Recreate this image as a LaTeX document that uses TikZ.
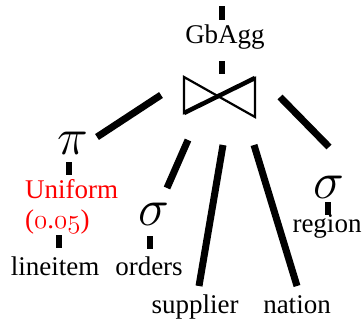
\RequirePackage{fix-cm}
\documentclass[tikz,border=0pt]{standalone}
\usepackage{fontspec}
\setmainfont{Liberation Serif}
\usepackage{xcolor}
\usetikzlibrary{positioning}

\newcommand\oldnum[1]{{\usefont{OML}{cmm}{m}{it}#1}}

\tikzset{
  lbl/.style={anchor=base,inner sep=0pt,font=\fontsize{27}{32}\selectfont},
  op/.style={anchor=base,inner sep=0pt,font=\fontsize{52}{56}\selectfont},
  edge/.style={line width=7pt},
  stub/.style={line width=6.5pt},
}

\begin{document}
\begin{tikzpicture}[x=1pt,y=-1pt]
\useasboundingbox (0,0) rectangle (364,322);

% operators and relations
\node[lbl] (gbagg) at (225,43) {GbAgg};
\node[op] (pi) at (73,154) {$\pi$};
\node[lbl,anchor=base west,text=red] (unif) at (25,198) {Uniform};
\node[lbl,anchor=base west,text=red] (rate) at (25,228) {(\oldnum{0}.\oldnum{05})};
\node[lbl] (lineitem) at (55,275) {lineitem};
\node[op] (sigo) at (154,225) {$\sigma$};
\node[lbl] (orders) at (149,275) {orders};
\node[lbl] (supplier) at (195,313) {supplier};
\node[lbl] (nation) at (297,313) {nation};
\node[op] (sigr) at (329,198) {$\sigma$};
\node[lbl] (region) at (327,232) {region};

% join symbol
\node[minimum width=71pt,minimum height=38pt,inner sep=0pt] (join) at (219.5,97) {};
\draw[line width=2.2pt] (184,77) -- (255,117) -- (255,78) -- (184,113) -- cycle;
\draw[line width=4.5pt] (184,113) -- (255,78);

% end points of the links
\coordinate (gb-in) at (222,6);   \coordinate (gb-top) at (222,20);
\coordinate (gb-bot) at (222,61); \coordinate (join-up) at (222,74);
\coordinate (join-l) at (161,95); \coordinate (pi-up) at (97,137);
\coordinate (join-o) at (188,140); \coordinate (sigo-up) at (167,188);
\coordinate (join-s) at (223,145); \coordinate (supp-up) at (199,286);
\coordinate (join-n) at (254,145); \coordinate (nat-up) at (297,286);
\coordinate (join-r) at (280,97); \coordinate (sigr-up) at (329,147);
\coordinate (pi-dn) at (69,162);  \coordinate (unif-up) at (69,175);
\coordinate (rate-dn) at (59,235); \coordinate (line-up) at (59,248);
\coordinate (sigo-dn) at (150,236); \coordinate (ord-up) at (150,249);
\coordinate (sigr-dn) at (328,202); \coordinate (reg-up) at (328,215);

\draw[stub] (gb-in) -- (gb-top);
\draw[stub] (gb-bot) -- (join-up);
\draw[edge] (join-l) -- (pi-up);
\draw[edge] (join-o) -- (sigo-up);
\draw[edge] (join-s) -- (supp-up);
\draw[edge] (join-n) -- (nat-up);
\draw[edge] (join-r) -- (sigr-up);
\draw[stub] (pi-dn) -- (unif-up);
\draw[stub] (rate-dn) -- (line-up);
\draw[stub] (sigo-dn) -- (ord-up);
\draw[stub] (sigr-dn) -- (reg-up);
\end{tikzpicture}
\end{document}
